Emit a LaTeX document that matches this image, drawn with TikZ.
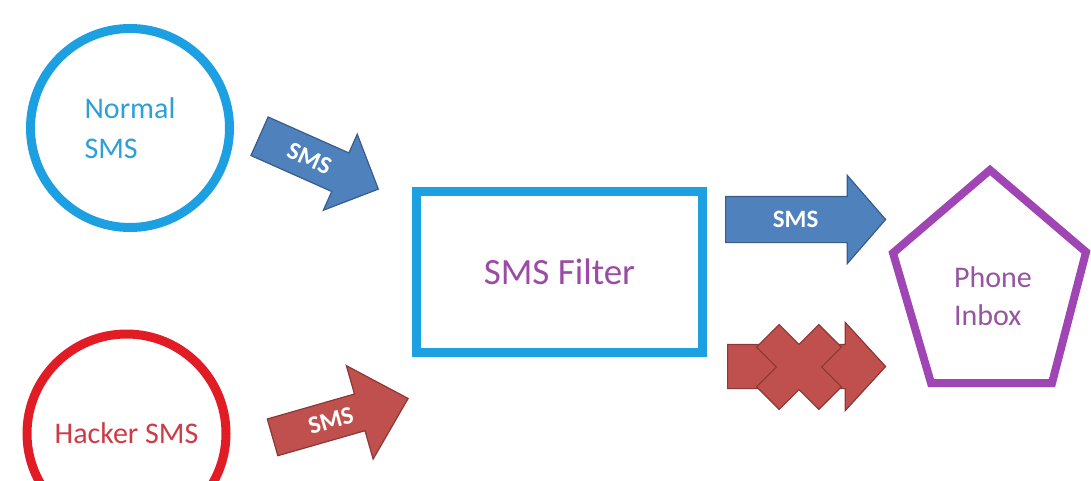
\documentclass[tikz,border=0pt]{standalone}
\usepackage{fontspec}
\setmainfont{Carlito}
\usepackage{tikz}
\usetikzlibrary{shapes.geometric, shapes.arrows, arrows.meta, positioning, calc}

\definecolor{boxcyan}{RGB}{28,160,226}
\definecolor{normaltext}{RGB}{45,160,215}
\definecolor{hackred}{RGB}{226,28,36}
\definecolor{hacktext}{RGB}{205,60,70}
\definecolor{filtertext}{RGB}{155,75,165}
\definecolor{inboxpurple}{RGB}{160,70,180}
\definecolor{inboxtext}{RGB}{150,85,160}
\definecolor{arrblue}{RGB}{79,129,189}
\definecolor{arrblueline}{RGB}{56,93,138}
\definecolor{arrred}{RGB}{192,80,77}
\definecolor{arrredline}{RGB}{140,56,54}

\tikzset{
    src_circle/.style={
        circle, line width=9pt, minimum size=199pt, inner sep=0pt,
        align=left, font=\fontsize{30}{40}\selectfont
    },
    filter_box/.style={
        rectangle, draw=boxcyan, line width=9.5pt,
        minimum width=286pt, minimum height=161pt,
        text=filtertext, font=\fontsize{37}{40}\selectfont
    },
    inbox_line/.style={
        draw=inboxpurple, line width=8pt, line join=miter
    },
    sms_arrow/.style={
        single arrow, anchor=tail, line width=1.2pt, minimum width=0pt,
        text height=16pt, text depth=0pt, inner xsep=4pt,
        text=white, font=\bfseries\fontsize{25}{25}\selectfont
    },
    sms_blue/.style={sms_arrow, fill=arrblue, draw=arrblueline},
    sms_red/.style={sms_arrow, fill=arrred, draw=arrredline},
    block_mark/.style={fill=arrred, draw=arrredline, line width=1.2pt, line join=miter}
}

\begin{document}
\begin{tikzpicture}[x=1pt, y=-1pt]

    \useasboundingbox (0,0) rectangle (1091,480);

    % --- Sources (left) ---
    \node[src_circle, draw=boxcyan, text=normaltext] (normal) at (130,128) {Normal\\SMS};
    \node[src_circle, draw=hackred, text=hacktext] (hacker) at (126.5,433.5) {Hacker SMS};

    % --- Filter (middle) ---
    \node[filter_box] (filter) at (559.5,272) {SMS Filter};

    % --- Phone inbox (right) ---
    \node[text=inboxtext, align=left, font=\fontsize{30}{38}\selectfont] (inbox) at (993,296) {Phone\\Inbox};
    \draw[inbox_line, shift={(inbox.center)}]
        (-3,-126) -- (93,-44) -- (59,87) -- (-62,87) -- (-100,-43) -- cycle;

    % --- Incoming SMS arrows ---
    \node[sms_blue, rotate=-24, minimum height=130pt, inner ysep=12.5pt,
          single arrow head extend=20.5pt, single arrow tip angle=90] (in_normal) at (259,136) {SMS};
    \node[sms_red, rotate=16, minimum height=141pt, inner ysep=10.5pt,
          single arrow head extend=29.5pt, single arrow tip angle=88] (in_hacker) at (272,437.5) {SMS};

    % --- Outgoing arrows: passed and blocked ---
    \node[sms_blue, minimum height=160pt, inner ysep=14.5pt,
          single arrow head extend=21pt, single arrow tip angle=98] (out_pass) at (725,219.5) {SMS};
    \node[sms_red, minimum height=158pt, inner ysep=13.5pt,
          single arrow head extend=22pt, single arrow tip angle=95] (out_block) at (727,366.5) {};

    % blocked mark over the lower arrow
    \coordinate (blockx) at (799,367);
    \draw[block_mark, shift={(blockx)}, rotate=45]
        (16,16) -- (44,16) -- (44,-16) -- (16,-16) -- (16,-44) -- (-16,-44) --
        (-16,-16) -- (-44,-16) -- (-44,16) -- (-16,16) -- (-16,44) -- (16,44) -- cycle;

\end{tikzpicture}
\end{document}
